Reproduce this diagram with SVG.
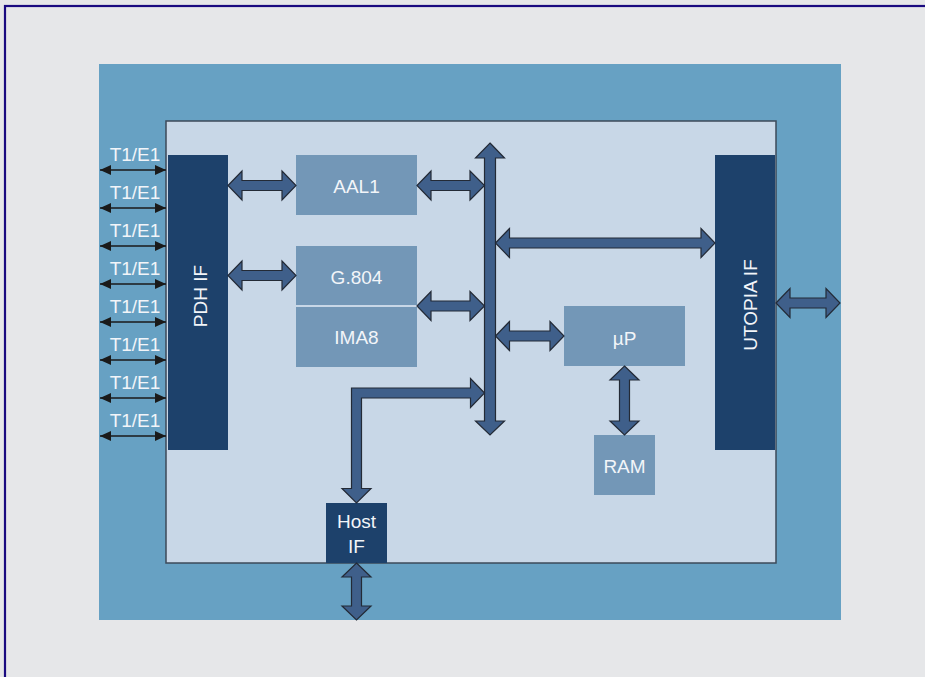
<svg xmlns="http://www.w3.org/2000/svg" width="925" height="677" viewBox="0 0 925 677">
<defs>
<style>
.lbl{font-family:"Liberation Sans",Arial,sans-serif;font-size:19px;fill:#f2f5f9;text-anchor:middle}
.dark{fill:#1d416b}
.mid{fill:#7397b7}
.blk{fill:#3f5f8a;stroke:#232a36;stroke-width:1.2;stroke-linejoin:miter}
.t1{stroke:#1a1a1a;stroke-width:1.6;marker-start:url(#ah);marker-end:url(#ah)}
</style>
<marker id="ah" viewBox="0 0 11 10" refX="11" refY="5" markerWidth="11" markerHeight="10" markerUnits="userSpaceOnUse" orient="auto-start-reverse">
<path d="M0,0 L11,5 L0,10 Z" fill="#1a1a1a"/>
</marker>
</defs>
<rect x="0" y="0" width="925" height="677" fill="#e6e7e9"/>
<rect x="5" y="6" width="940" height="700" fill="none" stroke="#1a0a80" stroke-width="2.2"/>
<g id="chip">
<rect x="99" y="64" width="742" height="556" fill="#67a1c3"/>
<rect x="166" y="121" width="610" height="442" fill="#c8d7e7" stroke="#3c4a5a" stroke-width="1.5"/>
</g>
<g id="pdh-if"><rect class="dark" x="168" y="155" width="60" height="295"/><text class="lbl" transform="translate(207,296) rotate(-90)">PDH IF</text></g>
<g id="utopia-if"><rect class="dark" x="715" y="155" width="60" height="295"/><text class="lbl" transform="translate(757,305) rotate(-90)">UTOPIA IF</text></g>
<g id="aal1"><rect class="mid" x="296" y="155" width="121" height="60"/><text class="lbl" x="356.5" y="193">AAL1</text></g>
<g id="g804"><rect class="mid" x="296" y="246" width="121" height="59"/><text class="lbl" x="356.5" y="284">G.804</text></g>
<g id="ima8"><rect class="mid" x="296" y="307" width="121" height="60"/><text class="lbl" x="356.5" y="344">IMA8</text></g>
<g id="up"><rect class="mid" x="564" y="306" width="121" height="60"/><text class="lbl" x="624.5" y="345">µP</text></g>
<g id="ram"><rect class="mid" x="594" y="435" width="61" height="60"/><text class="lbl" x="624.5" y="473">RAM</text></g>
<g id="host-if"><rect class="dark" x="326" y="503" width="61" height="60"/><text class="lbl" x="356.5" y="528">Host</text><text class="lbl" x="356.5" y="553">IF</text></g>
<g id="t1e1">
<text class="lbl" x="135" y="161">T1/E1</text><line class="t1" x1="100" y1="170" x2="166" y2="170"/>
<text class="lbl" x="135" y="199">T1/E1</text><line class="t1" x1="100" y1="208" x2="166" y2="208"/>
<text class="lbl" x="135" y="237">T1/E1</text><line class="t1" x1="100" y1="246" x2="166" y2="246"/>
<text class="lbl" x="135" y="275">T1/E1</text><line class="t1" x1="100" y1="284" x2="166" y2="284"/>
<text class="lbl" x="135" y="313">T1/E1</text><line class="t1" x1="100" y1="322" x2="166" y2="322"/>
<text class="lbl" x="135" y="351">T1/E1</text><line class="t1" x1="100" y1="360" x2="166" y2="360"/>
<text class="lbl" x="135" y="389">T1/E1</text><line class="t1" x1="100" y1="398" x2="166" y2="398"/>
<text class="lbl" x="135" y="427">T1/E1</text><line class="t1" x1="100" y1="436" x2="166" y2="436"/>
</g>
<g id="connectors">
<path class="blk" d="M490,143 L504.5,158 L495.5,158 L495.5,421 L504.5,421 L490,435 L475.5,421 L484.5,421 L484.5,158 L475.5,158 Z"/>
<path class="blk" d="M228,185.5 L242,171 L242,180.5 L282,180.5 L282,171 L296,185.5 L282,200 L282,190.5 L242,190.5 L242,200 Z"/>
<path class="blk" d="M228,275.5 L242,261 L242,270.5 L282,270.5 L282,261 L296,275.5 L282,290 L282,280.5 L242,280.5 L242,290 Z"/>
<path class="blk" d="M417,185.5 L431,171 L431,180.5 L470,180.5 L470,171 L484.5,185.5 L470,200 L470,190.5 L431,190.5 L431,200 Z"/>
<path class="blk" d="M417,306 L431,291.5 L431,301 L470,301 L470,291.5 L484.5,306 L470,320.5 L470,311 L431,311 L431,320.5 Z"/>
<path class="blk" d="M495.5,243 L509.5,228.5 L509.5,238 L701,238 L701,228.5 L715,243 L701,257.5 L701,248 L509.5,248 L509.5,257.5 Z"/>
<path class="blk" d="M495.5,336 L509.5,321.5 L509.5,331 L550,331 L550,321.5 L564,336 L550,350.5 L550,341 L509.5,341 L509.5,350.5 Z"/>
<path class="blk" d="M776,303 L790,288.5 L790,298 L826,298 L826,288.5 L840,303 L826,317.5 L826,308 L790,308 L790,317.5 Z"/>
<path class="blk" d="M624.5,366 L639,380 L629.5,380 L629.5,421 L639,421 L624.5,435 L610,421 L619.5,421 L619.5,380 L610,380 Z"/>
<path class="blk" d="M356.5,563 L371,577 L361.5,577 L361.5,606 L371,606 L356.5,620 L342,606 L351.5,606 L351.5,577 L342,577 Z"/>
<path class="blk" d="M484.5,393 L470.5,378.5 L470.5,388 L351.5,388 L351.5,488.5 L342,488.5 L356.5,503 L371,488.5 L361.5,488.5 L361.5,398 L470.5,398 L470.5,407.5 Z"/>
</g>
</svg>
